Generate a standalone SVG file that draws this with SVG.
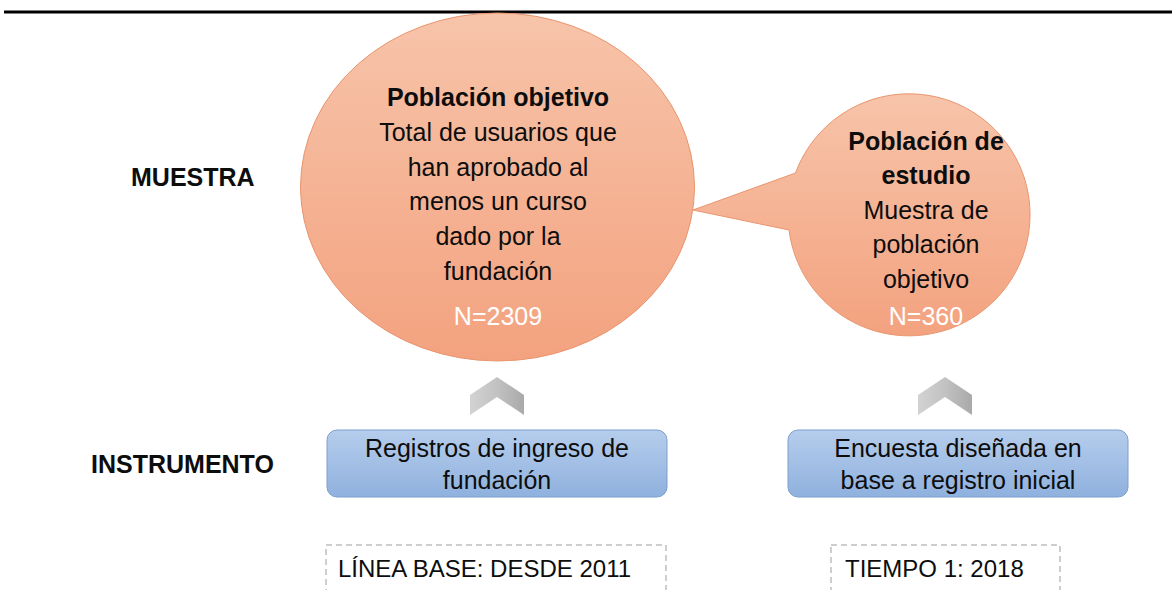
<svg xmlns="http://www.w3.org/2000/svg" width="1172" height="590" viewBox="0 0 1172 590">
<defs>
<linearGradient id="gOrange" x1="0" y1="0" x2="0" y2="1">
<stop offset="0" stop-color="#F7C4AA"/>
<stop offset="1" stop-color="#F3A27F"/>
</linearGradient>
<linearGradient id="gBlue" x1="0" y1="0" x2="0" y2="1">
<stop offset="0" stop-color="#B6CDEC"/>
<stop offset="1" stop-color="#8FB1DE"/>
</linearGradient>
<linearGradient id="gGray" x1="0" y1="0" x2="1" y2="0">
<stop offset="0" stop-color="#D2D2D2"/>
<stop offset="0.5" stop-color="#C2C2C2"/>
<stop offset="1" stop-color="#A9A9A9"/>
</linearGradient>
<style>
text{font-family:"Liberation Sans",Arial,sans-serif;font-size:25px;fill:#0D0D0D}
.c{text-anchor:middle}
.b{font-weight:bold}
.w{fill:#FFFFFF}
.ell{fill:url(#gOrange);stroke:#EA956F;stroke-width:1}
.box{fill:url(#gBlue);stroke:#7C9FCE;stroke-width:1}
.chev{fill:url(#gGray);stroke:none}
.dash{fill:none;stroke:#BFBFBF;stroke-width:1.5;stroke-dasharray:6 4}
</style>
</defs>
<rect x="0" y="0" width="1172" height="590" fill="#FFFFFF"/>
<line x1="4" y1="12" x2="1172" y2="12" stroke="#000" stroke-width="3"/>

<g id="label-muestra"><text class="b" x="131" y="186">MUESTRA</text></g>
<g id="label-instrumento"><text class="b" x="91" y="473">INSTRUMENTO</text></g>

<g id="poblacion-objetivo">
<ellipse class="ell" cx="497.5" cy="187" rx="197" ry="174"/>
<text class="c b" x="498" y="106">Población objetivo</text>
<text class="c" x="498" y="141">Total de usuarios que</text>
<text class="c" x="498" y="176">han aprobado al</text>
<text class="c" x="498" y="210">menos un curso</text>
<text class="c" x="498" y="245">dado por la</text>
<text class="c" x="498" y="280">fundación</text>
<text class="c w" x="498" y="325">N=2309</text>
</g>

<g id="poblacion-estudio">
<path class="ell" d="M 795.5 173 A 121 121 0 1 1 789 230 L 693 210 Z"/>
<text class="c b" x="926" y="150">Población de</text>
<text class="c b" x="926" y="184">estudio</text>
<text class="c" x="926" y="219">Muestra de</text>
<text class="c" x="926" y="253">población</text>
<text class="c" x="926" y="288">objetivo</text>
<text class="c w" x="926" y="325">N=360</text>
</g>

<g id="connectors">
<path class="chev" d="M 470 415 L 470 395 L 497 377 L 524 395 L 524 415 L 497 397 Z"/>
<path class="chev" d="M 918 415 L 918 395 L 945 377 L 972 395 L 972 415 L 945 397 Z"/>
</g>

<g id="registros">
<rect class="box" x="327" y="430" width="340" height="67" rx="10"/>
<text class="c" x="497" y="457">Registros de ingreso de</text>
<text class="c" x="497" y="489">fundación</text>
</g>

<g id="encuesta">
<rect class="box" x="788" y="430" width="340" height="67" rx="10"/>
<text class="c" x="958" y="457">Encuesta diseñada en</text>
<text class="c" x="958" y="489">base a registro inicial</text>
</g>

<g id="linea-base">
<rect class="dash" x="326" y="545" width="340" height="60"/>
<text x="338" y="577" font-size="24" style="font-size:24px">LÍNEA BASE: DESDE 2011</text>
</g>

<g id="tiempo-1">
<rect class="dash" x="831" y="545" width="229" height="60"/>
<text x="845" y="577" style="font-size:24px">TIEMPO 1: 2018</text>
</g>
</svg>
